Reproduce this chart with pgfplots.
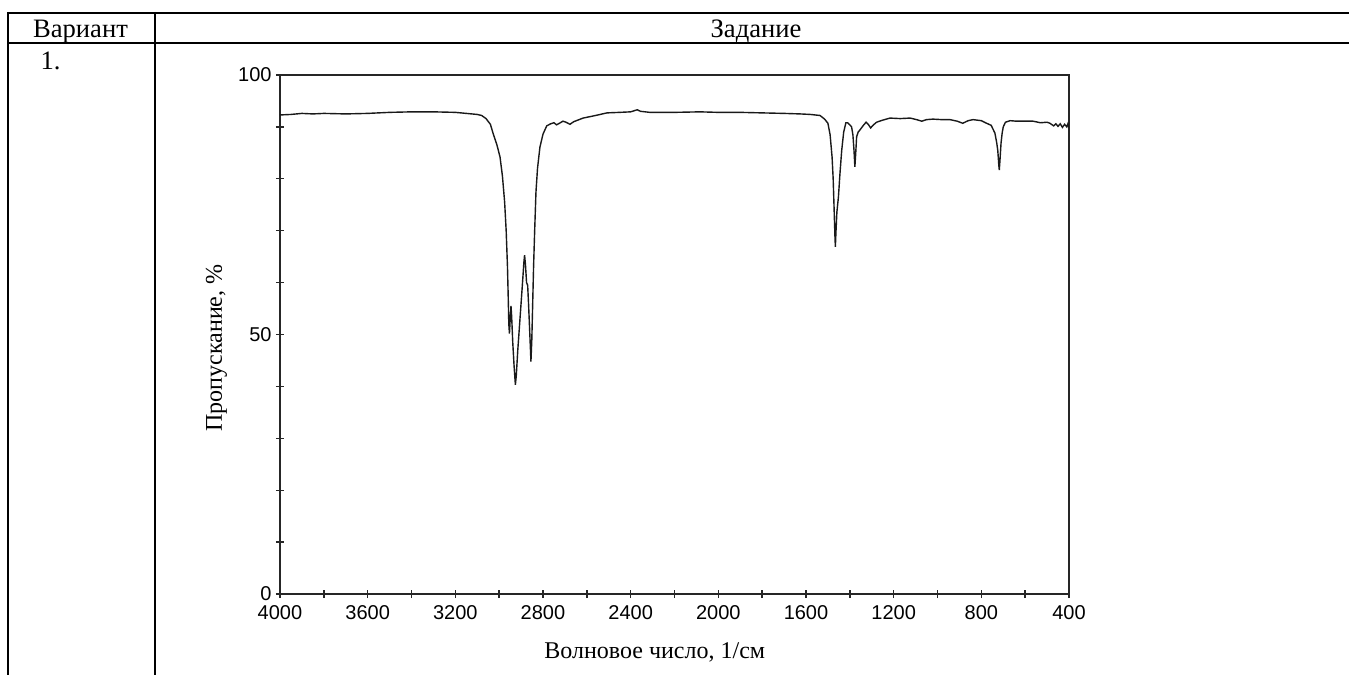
\documentclass[border=0pt]{standalone}
\usepackage{fontspec}
\setmainfont{Liberation Serif}
\newfontfamily\arial{Liberation Sans}
\usepackage{pgfplots}
\pgfplotsset{compat=1.18}
\begin{document}
\begin{tikzpicture}
% 1 px of the reference = 0.5pt
\useasboundingbox (0,0) rectangle (674.5pt,337.5pt);

% table frame
\draw[line width=1pt] (4pt,331pt) -- (674.5pt,331pt);
\draw[line width=1pt] (4pt,316pt) -- (674.5pt,316pt);
\draw[line width=1pt] (4pt,331.5pt) -- (4pt,0pt);
\draw[line width=1pt] (77.5pt,331.5pt) -- (77.5pt,0pt);
\node[anchor=base, inner sep=0pt, font=\fontsize{13.3}{15}\selectfont] at (40.25pt,318.6pt) {Вариант};
\node[anchor=base, inner sep=0pt, font=\fontsize{13.3}{15}\selectfont] at (378pt,318.6pt) {Задание};
\node[anchor=base, inner sep=0pt, font=\fontsize{13.3}{15}\selectfont] at (25.25pt,302.7pt) {1.};

\begin{axis}[
    at={(140pt,40.5pt)}, anchor=south west,
    scale only axis,
    width=394.5pt, height=259.5pt,
    x dir=reverse,
    xmin=400, xmax=4000,
    ymin=0, ymax=100,
    xtick={4000,3600,...,400},
    minor xtick={3800,3400,...,600},
    ytick={0,50,100},
    minor ytick={10,20,30,40,60,70,80,90},
    tick align=center,
    major tick length=4pt,
    minor tick length=4pt,
    tick pos=left,
    axis line style={black!85, line width=0.6pt},
    every tick/.style={black!85, line width=0.7pt},
    every minor tick/.style={black!85, line width=0.7pt},
    /pgf/number format/assume math mode=true,
    /pgf/number format/1000 sep={},
    tick label style={font=\arial\fontsize{10}{12}\selectfont},
    xticklabel style={inner sep=0pt, yshift=-3.5pt},
    yticklabel style={inner sep=0pt, xshift=-2pt},
    xlabel={Волновое число, 1/см},
    ylabel={Пропускание, \%},
    label style={font=\fontsize{12}{14}\selectfont},
    xlabel style={at={(axis description cs:0.475,0)}, anchor=base, yshift=-32pt, inner sep=0pt},
    ylabel style={at={(axis description cs:-0.0735,0.474)}, anchor=base, inner sep=0pt},
]
\addplot[black!90, line width=0.7pt] coordinates {
(4000,92.3) (3950,92.4) (3900,92.6) (3850,92.5) (3800,92.6) (3700,92.5)
(3600,92.6) (3500,92.8) (3400,92.9) (3300,92.9) (3200,92.8) (3150,92.6)
(3100,92.4) (3080,92.2) (3060,91.6) (3040,90.5) (3028,88.8) (3010,86.5)
(2996,84.2) (2985,80.5) (2975,75.5) (2968,70) (2962,63) (2958,56)
(2956,52) (2953,50.2) (2949,53.5) (2946,55.5) (2943,53.5) (2938,48.5)
(2932,44) (2926,40.3) (2922,42) (2915,47) (2905,53) (2895,59)
(2887,64) (2884,65.3) (2880,63.5) (2875,60) (2870,59.5) (2866,56)
(2860,50) (2855,44.8) (2851,49) (2847,56) (2843,63) (2838,70)
(2832,77.5) (2825,82) (2814,86.1) (2800,88.6) (2783,90.2) (2765,90.6)
(2750,90.8) (2738,90.4) (2725,90.7) (2709,91.1) (2695,90.9) (2677,90.5)
(2660,91.0) (2617,91.7) (2560,92.2) (2508,92.7) (2450,92.8) (2400,92.9)
(2370,93.3) (2355,93.0) (2312,92.8) (2200,92.8) (2084,92.9) (2000,92.8)
(1900,92.8) (1800,92.7) (1700,92.6) (1627,92.5) (1580,92.4) (1536,92.2)
(1515,91.5) (1500,90.7) (1490,88.5) (1481,84.2) (1476,80) (1472,74.6)
(1468,69) (1466,66.9) (1463,70) (1459,73.6) (1452,76.5) (1445,81)
(1437,85.5) (1428,89) (1418,90.8) (1410,90.8) (1400,90.4) (1392,90.0)
(1386,88.5) (1381,85.5) (1377,82.3) (1373,85) (1369,88.1) (1362,89)
(1354,89.4) (1340,90.2) (1326,90.9) (1316,90.5) (1305,89.8) (1292,90.4)
(1278,90.9) (1250,91.3) (1217,91.7) (1170,91.6) (1125,91.7) (1095,91.4)
(1072,91.1) (1050,91.4) (1021,91.5) (980,91.4) (943,91.4) (910,91.1)
(885,90.7) (860,91.2) (838,91.4) (800,91.2) (776,90.7) (755,90.3)
(738,88.8) (730,87) (725,85.5) (720,82.5) (718,81.7) (715,83.5)
(710,86.9) (705,88.8) (700,90.0) (690,90.9) (669,91.2) (640,91.1)
(600,91.1) (564,91.1) (530,90.8) (500,90.9) (487,90.7) (470,90.2)
(460,90.6) (450,90.1) (440,90.6) (430,89.9) (420,90.5) (410,90.0)
(405,90.6) (400,89.9)
};
\end{axis}
\end{tikzpicture}
\end{document}
